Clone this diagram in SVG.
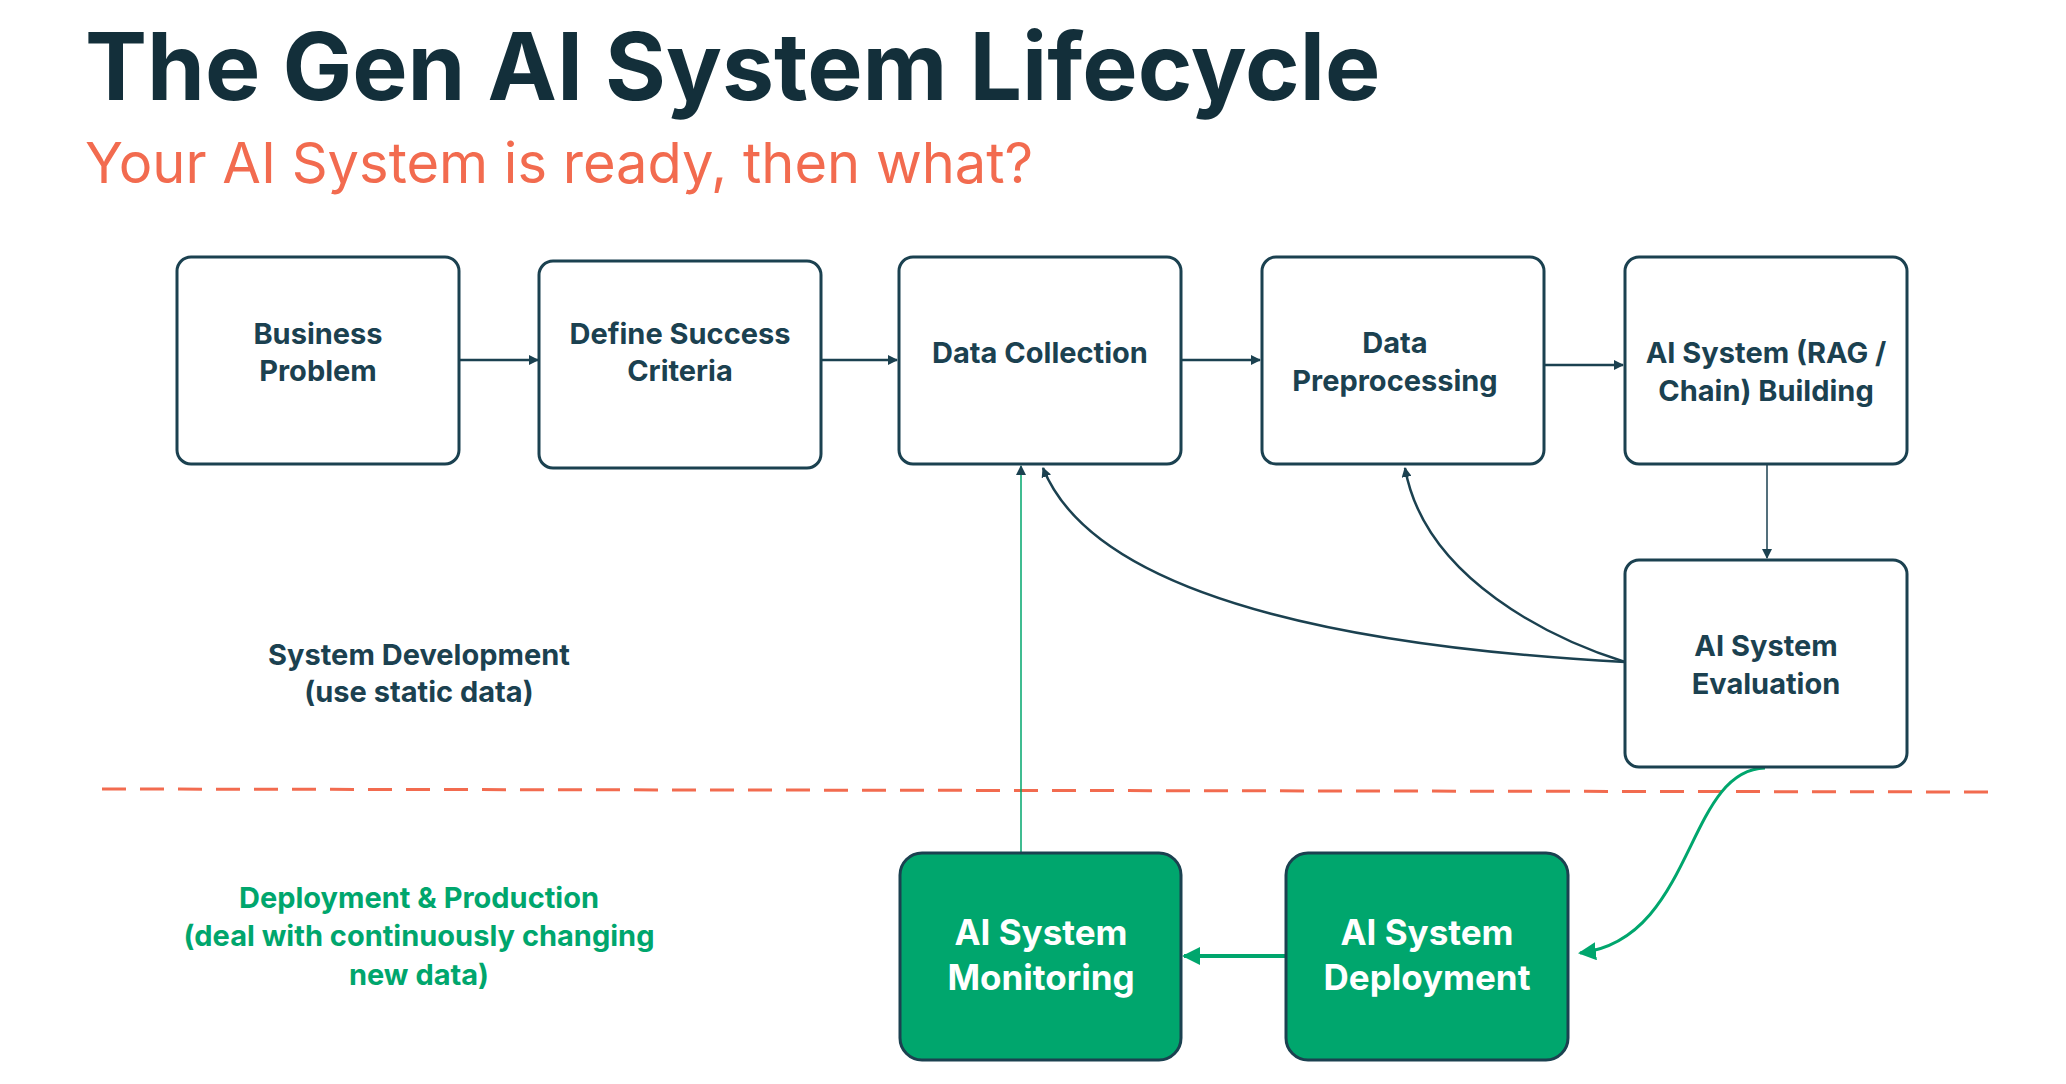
<svg xmlns="http://www.w3.org/2000/svg" width="2066" height="1084" viewBox="0 0 2066 1084">
<style>
.box{fill:#fff;stroke:#1b4150;stroke-width:3}
.gbox{fill:#00a66d;stroke:#1b4150;stroke-width:3}
.t{font-family:"Inter","Liberation Sans",sans-serif;font-weight:700;font-size:29px;fill:#1b4150;text-anchor:middle}
.g{font-family:"Inter","Liberation Sans",sans-serif;font-weight:700;font-size:35px;fill:#fff;text-anchor:middle}
.c{fill:none;stroke:#1b4150;stroke-width:2.5}
</style>
<defs>
<marker id="a" markerWidth="10" markerHeight="10" refX="9" refY="5" orient="auto" markerUnits="userSpaceOnUse"><path d="M0,0 L10,5 L0,10 Z" fill="#1b4150"/></marker>
<marker id="ag" markerWidth="18" markerHeight="18" refX="16" refY="9" orient="auto" markerUnits="userSpaceOnUse"><path d="M0,0 L18,9 L0,18 Z" fill="#00a66d"/></marker>
</defs>
<rect width="2066" height="1084" fill="#fff"/>
<text x="85" y="100" font-family="Inter,'Liberation Sans',sans-serif" font-weight="700" font-size="93" fill="#132f3a">The Gen AI System Lifecycle</text>
<text x="85" y="183" font-family="Inter,'Liberation Sans',sans-serif" font-size="56" fill="#f26b4f">Your AI System is ready, then what?</text>
<line x1="102" y1="789" x2="2000" y2="792" stroke="#f26b4f" stroke-width="3" stroke-dasharray="24,14"/>
<text class="t" x="419" y="665">System Development</text>
<text class="t" x="419" y="702">(use static data)</text>
<text class="t" style="fill:#00a66d" x="419" y="908">Deployment &amp; Production</text>
<text class="t" style="fill:#00a66d" x="419" y="946">(deal with continuously changing</text>
<text class="t" style="fill:#00a66d" x="419" y="985">new data)</text>
<g id="connectors">
<line class="c" x1="460" y1="360" x2="538" y2="360" marker-end="url(#a)"/>
<line class="c" x1="822" y1="360" x2="897" y2="360" marker-end="url(#a)"/>
<line class="c" x1="1182" y1="360" x2="1260" y2="360" marker-end="url(#a)"/>
<line class="c" x1="1545" y1="365" x2="1623" y2="365" marker-end="url(#a)"/>
<line x1="1767" y1="465" x2="1767" y2="558" stroke="#1b4150" stroke-width="1.5" marker-end="url(#a)"/>
<path class="c" d="M1625,662 C1400,650 1100,610 1043,468" marker-end="url(#a)"/>
<path class="c" d="M1625,662 C1555,640 1425,580 1405,468" marker-end="url(#a)"/>
<line x1="1021" y1="853" x2="1021" y2="466" stroke="#00a66d" stroke-width="1.5" marker-end="url(#a)"/>
<path d="M1765,768 C1685,770 1695,940 1580,953" fill="none" stroke="#00a66d" stroke-width="3" marker-end="url(#ag)"/>
<line x1="1286" y1="956" x2="1184" y2="956" stroke="#00a66d" stroke-width="4" marker-end="url(#ag)"/>
</g>
<g id="business"><rect class="box" x="177" y="257" width="282" height="207" rx="14"/><text class="t" x="318" y="344">Business</text><text class="t" x="318" y="381">Problem</text></g>
<g id="define"><rect class="box" x="539" y="261" width="282" height="207" rx="14"/><text class="t" x="680" y="344">Define Success</text><text class="t" x="680" y="381">Criteria</text></g>
<g id="collection"><rect class="box" x="899" y="257" width="282" height="207" rx="14"/><text class="t" x="1040" y="363">Data Collection</text></g>
<g id="preprocessing"><rect class="box" x="1262" y="257" width="282" height="207" rx="14"/><text class="t" x="1395" y="353">Data</text><text class="t" x="1395" y="391">Preprocessing</text></g>
<g id="building"><rect class="box" x="1625" y="257" width="282" height="207" rx="14"/><text class="t" x="1766" y="363">AI System (RAG /</text><text class="t" x="1766" y="401">Chain) Building</text></g>
<g id="evaluation"><rect class="box" x="1625" y="560" width="282" height="207" rx="14"/><text class="t" x="1766" y="656">AI System</text><text class="t" x="1766" y="694">Evaluation</text></g>
<g id="monitoring"><rect class="gbox" x="900" y="853" width="281" height="207" rx="22"/><text class="g" x="1041" y="945">AI System</text><text class="g" x="1041" y="990">Monitoring</text></g>
<g id="deployment"><rect class="gbox" x="1286" y="853" width="282" height="207" rx="22"/><text class="g" x="1427" y="945">AI System</text><text class="g" x="1427" y="990">Deployment</text></g>
</svg>
